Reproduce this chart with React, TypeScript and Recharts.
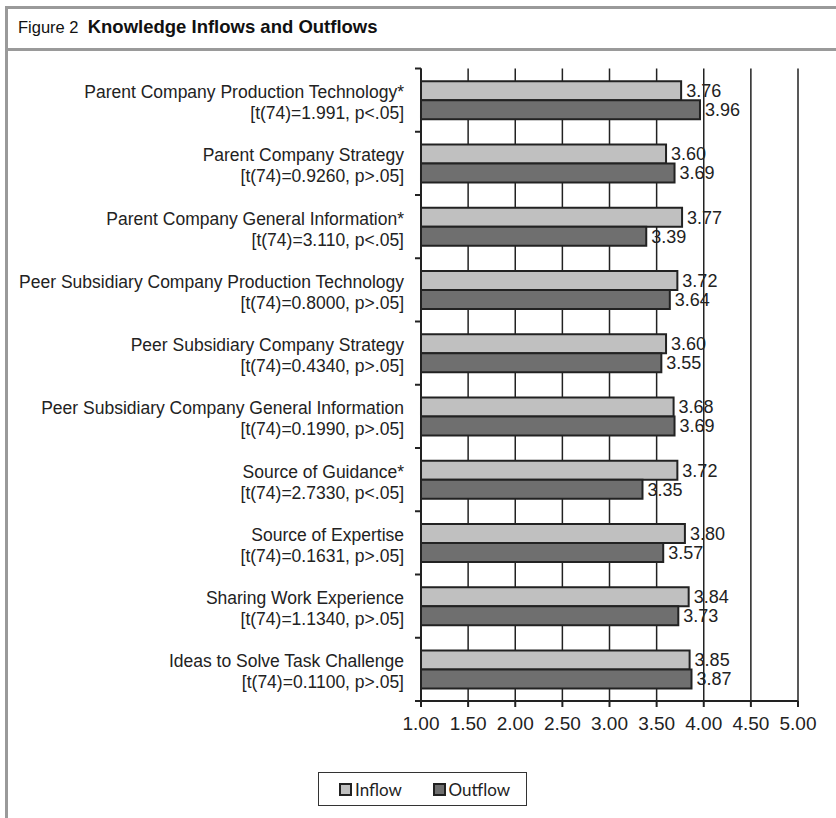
import React from 'react';
import {
    BarChart,
    Bar,
    XAxis,
    YAxis,
    CartesianGrid,
    LabelList,
} from 'recharts';

const categories = [
    'Parent Company Production Technology*',
    'Parent Company Strategy',
    'Parent Company General Information*',
    'Peer Subsidiary Company Production Technology',
    'Peer Subsidiary Company Strategy',
    'Peer Subsidiary Company General Information',
    'Source of Guidance*',
    'Source of Expertise',
    'Sharing Work Experience',
    'Ideas to Solve Task Challenge',
];

const tests = [
    '[t(74)=1.991, p<.05]',
    '[t(74)=0.9260, p>.05]',
    '[t(74)=3.110, p<.05]',
    '[t(74)=0.8000, p>.05]',
    '[t(74)=0.4340, p>.05]',
    '[t(74)=0.1990, p>.05]',
    '[t(74)=2.7330, p<.05]',
    '[t(74)=0.1631, p>.05]',
    '[t(74)=1.1340, p>.05]',
    '[t(74)=0.1100, p>.05]',
];

const inflow = [3.76, 3.6, 3.77, 3.72, 3.6, 3.68, 3.72, 3.8, 3.84, 3.85];
const outflow = [3.96, 3.69, 3.39, 3.64, 3.55, 3.69, 3.35, 3.57, 3.73, 3.87];

const xTicks = [1, 1.5, 2, 2.5, 3, 3.5, 4, 4.5, 5];

const series = [
    { key: 'inflow', name: 'Inflow', color: '#c0c0c0' },
    { key: 'outflow', name: 'Outflow', color: '#6f6f6f' },
];

const data = categories.map((name, i) => ({
    name,
    test: tests[i],
    inflow: inflow[i],
    outflow: outflow[i],
}));

const W = 836;
const H = 818;
const PLOT_LEFT = 421;
const PLOT_TOP = 68.5;
const PLOT_BOTTOM = 701;
const BAND = (PLOT_BOTTOM - PLOT_TOP) / categories.length;
const INK = '#222';
const FRAME = '#9a9a9a';
const FONT = "'Liberation Sans', Arial, sans-serif";

function CategoryTick(props: any) {
    const { y, payload, index } = props;
    const row = data[index] || data.find((d) => d.name === payload.value);
    const isLast = index === categories.length - 1;
    return (
        <g>
            <line
                x1={PLOT_LEFT - 6}
                x2={PLOT_LEFT}
                y1={y - BAND / 2}
                y2={y - BAND / 2}
                stroke={INK}
                strokeWidth={2}
            />
            {isLast && (
                <line
                    x1={PLOT_LEFT - 6}
                    x2={PLOT_LEFT}
                    y1={y + BAND / 2}
                    y2={y + BAND / 2}
                    stroke={INK}
                    strokeWidth={2}
                />
            )}
            <text
                x={PLOT_LEFT - 17}
                y={y}
                textAnchor="end"
                fill="#222"
                fontSize={17.5}
                fontFamily={FONT}
            >
                <tspan x={PLOT_LEFT - 17} dy={-2}>
                    {payload.value}
                </tspan>
                <tspan x={PLOT_LEFT - 17} dy={21}>
                    {row ? row.test : ''}
                </tspan>
            </text>
        </g>
    );
}

function LegendBox() {
    return (
        <div
            style={{
                position: 'absolute',
                left: 318,
                top: 772,
                width: 209,
                height: 34,
                boxSizing: 'border-box',
                border: '1px solid #333',
                display: 'flex',
                alignItems: 'center',
                paddingLeft: 20,
                fontFamily: "Lato, 'Open Sans', sans-serif",
                fontSize: 17,
                color: '#222',
                background: '#fff',
            }}
        >
            {series.map((s) => (
                <div
                    key={s.key}
                    style={{ display: 'flex', alignItems: 'center', width: 105 }}
                >
                    <span
                        style={{
                            width: 13,
                            height: 13,
                            boxSizing: 'border-box',
                            border: '2px solid #222',
                            background: s.color,
                            marginRight: 3,
                            display: 'inline-block',
                        }}
                    />
                    {s.name}
                </div>
            ))}
        </div>
    );
}

export default function App() {
    return (
        <div
            style={{
                position: 'absolute',
                left: 0,
                top: 0,
                width: W,
                height: H,
                background: '#fff',
                overflow: 'hidden',
            }}
        >
            {/* figure frame */}
            <div style={{ position: 'absolute', left: 5, top: 6, width: W - 5, height: 3, background: FRAME }} />
            <div style={{ position: 'absolute', left: 5, top: 48, width: W - 5, height: 3, background: FRAME }} />
            <div style={{ position: 'absolute', left: 5, top: 6, width: 3, height: H - 6, background: FRAME }} />
            <div
                style={{
                    position: 'absolute',
                    left: 18,
                    top: 16,
                    fontFamily: FONT,
                    fontSize: 16.5,
                    color: '#111',
                    whiteSpace: 'nowrap',
                }}
            >
                Figure 2&nbsp;&nbsp;<b style={{ fontSize: 18.5 }}>Knowledge Inflows and Outflows</b>
            </div>

            <div style={{ position: 'absolute', left: 0, top: 0 }}>
                <BarChart
                    width={W}
                    height={H}
                    data={data}
                    layout="vertical"
                    barCategoryGap="20%"
                    barGap={0}
                    margin={{ top: PLOT_TOP, right: W - 798, bottom: H - PLOT_BOTTOM - 30, left: 0 }}
                >
                    <CartesianGrid
                        horizontal={false}
                        vertical
                        stroke={INK}
                        strokeWidth={1.5}
                    />
                    <XAxis
                        type="number"
                        domain={[1, 5]}
                        ticks={xTicks}
                        interval={0}
                        tickFormatter={(v: number) => v.toFixed(2)}
                        axisLine={{ stroke: INK, strokeWidth: 2 }}
                        tickLine={{ stroke: INK, strokeWidth: 2 }}
                        tickSize={6}
                        tickMargin={10}
                        height={30}
                        tick={{ fill: '#222', fontSize: 19, fontFamily: FONT }}
                    />
                    <XAxis
                        xAxisId="top"
                        orientation="top"
                        type="number"
                        domain={[1, 5]}
                        ticks={xTicks}
                        tick={false}
                        tickLine={false}
                        height={0}
                        axisLine={{ stroke: INK, strokeWidth: 2 }}
                    />
                    <YAxis
                        type="category"
                        dataKey="name"
                        width={PLOT_LEFT}
                        interval={0}
                        tickLine={false}
                        axisLine={{ stroke: INK, strokeWidth: 2 }}
                        tick={<CategoryTick />}
                    />
                    {series.map((s) => (
                        <Bar
                            key={s.key}
                            dataKey={s.key}
                            name={s.name}
                            fill={s.color}
                            stroke={INK}
                            strokeWidth={2}
                            isAnimationActive={false}
                        >
                            <LabelList
                                dataKey={s.key}
                                position="right"
                                offset={5}
                                formatter={(v: any) => Number(v).toFixed(2)}
                                style={{ fill: '#222', fontSize: 18, fontFamily: FONT }}
                            />
                        </Bar>
                    ))}
                </BarChart>
            </div>
            <LegendBox />
        </div>
    );
}
